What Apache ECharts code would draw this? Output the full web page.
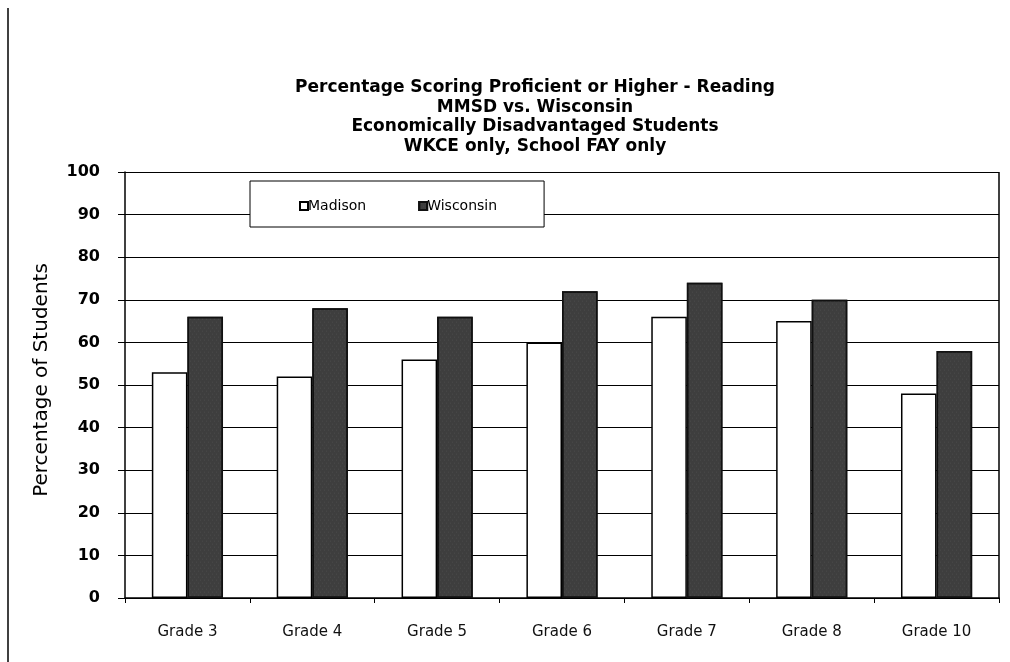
<!DOCTYPE html>
<html>
<head>
<meta charset="utf-8">
<script src="https://cdn.jsdelivr.net/npm/echarts@6/dist/echarts.min.js"></script>
<style>
html,body{margin:0;padding:0;background:#fff;}
#chart{width:1010px;height:662px;}
</style>
</head>
<body>
<div id="chart"></div>
<script>
const categories = ['Grade 3','Grade 4','Grade 5','Grade 6','Grade 7','Grade 8','Grade 10'];
const madison = [53, 52, 56, 60, 66, 65, 48];
const wisconsin = [66, 68, 66, 72, 74, 70, 58];
const titleLines = ['Percentage Scoring Proficient or Higher - Reading','MMSD vs. Wisconsin','Economically Disadvantaged Students','WKCE only, School FAY only'];

const FONT = 'DejaVu Sans, Liberation Sans, Arial, sans-serif';
const chart = echarts.init(document.getElementById('chart'));
chart.setOption({
  animation:false,
  backgroundColor:'#fff',
  title:{
    text: titleLines.join('\n'),
    left: 530, top: 73, textAlign:'center',
    textStyle:{fontFamily:FONT, fontWeight:'bold', fontSize:17, lineHeight:19.5, color:'#000'}
  },
  legend:{
    data:['Madison','Wisconsin'],
    left:250, top:181,
    padding:[18,47,14,49],
    itemGap:52,
    itemWidth:8, itemHeight:8,
    borderColor:'#000', borderWidth:1, backgroundColor:'#fff',
    icon:'rect',
    textStyle:{fontFamily:FONT, fontSize:14, color:'#000', padding:[0,0,0,-5]}
  },
  grid:{left:125, right:11, top:172, bottom:64, containLabel:false},
  xAxis:{
    type:'category', data:categories,
    axisLine:{lineStyle:{color:'#000', width:1.5}},
    axisTick:{show:true, length:5, lineStyle:{color:'#000'}},
    axisLabel:{fontFamily:FONT, fontSize:15, color:'#111', margin:27}
  },
  yAxis:{
    type:'value', min:0, max:100, interval:10,
    name:'Percentage of Students', nameLocation:'middle', nameGap:73, nameRotate:90,
    nameTextStyle:{fontFamily:FONT, fontSize:20, color:'#000', padding:[0,0,0,10]},
    axisLine:{show:true, lineStyle:{color:'#000', width:1.5}},
    axisTick:{show:true, length:7, lineStyle:{color:'#000'}},
    splitLine:{show:true, lineStyle:{color:'#000', width:1}},
    axisLabel:{fontFamily:FONT, fontSize:16, fontWeight:'bold', color:'#000', margin:25}
  },
  series:[
    {name:'Madison', type:'bar', data:madison, barGap:'0%', barCategoryGap:'43%',
     itemStyle:{color:'#fff', borderColor:'#000', borderWidth:1.5}},
    {name:'Wisconsin', type:'bar', data:wisconsin,
     itemStyle:{color:'#3e3e3e', borderColor:'#111', borderWidth:1.5,
       decal:{symbol:'circle', symbolSize:0.6, dashArrayX:[[1,3],[0,2,1,1]], dashArrayY:[2,1], color:'rgba(255,255,255,0.3)'}}}
  ],
  graphic:[
    {type:'line', shape:{x1:8,y1:8,x2:8,y2:662}, style:{stroke:'#000', lineWidth:1.5}},
    {type:'line', shape:{x1:999,y1:172,x2:999,y2:598}, style:{stroke:'#000', lineWidth:1.5}}
  ]
});
</script>
</body>
</html>
